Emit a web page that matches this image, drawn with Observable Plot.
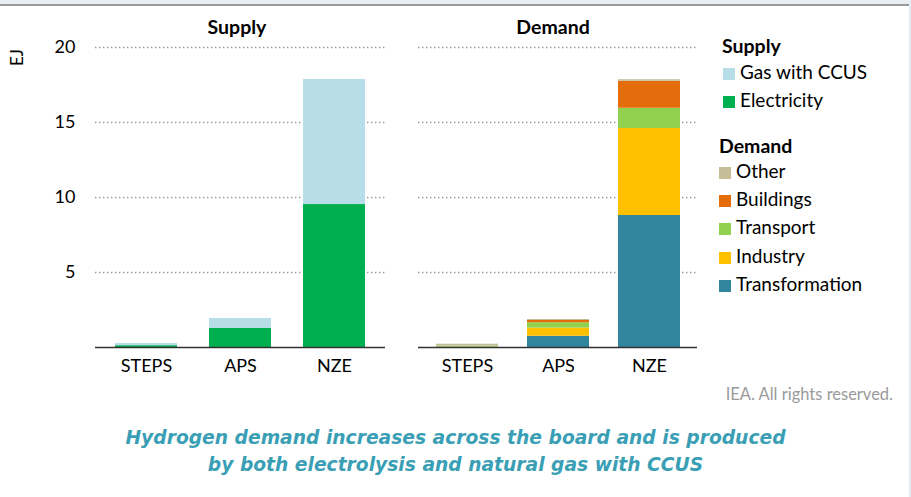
<!DOCTYPE html>
<html><head><meta charset="utf-8">
<script src="https://cdn.jsdelivr.net/npm/d3@7"></script>
<script src="https://cdn.jsdelivr.net/npm/@observablehq/plot@0.6"></script>
<style>
html,body{margin:0;padding:0;background:#fff;}
#wrap{position:relative;width:911px;height:497px;overflow:hidden;font-family:Lato,"Open Sans",sans-serif;}
.abs{position:absolute;white-space:nowrap;}
.ptitle{font-weight:bold;font-size:19.5px;color:#000;transform:translateX(-50%);}
.lg-h{font-weight:bold;font-size:19.5px;color:#000;}
.lg-i{font-size:19px;color:#000;line-height:20px;}
.sw{display:inline-block;width:12px;height:12px;margin-right:5px;vertical-align:-1px;}
</style>
</head><body>
<div id="wrap"></div>
<script>
const scenarios = ["STEPS", "APS", "NZE"];
const supplySeries = ["Electricity", "Gas with CCUS"];
const supplyValues = {
  "Electricity":   [0.12, 1.27, 9.53],
  "Gas with CCUS": [0.15, 0.66, 8.34]
};
const demandSeries = ["Transformation", "Industry", "Transport", "Buildings", "Other"];
const demandValues = {
  "Transformation": [0.02, 0.75, 8.80],
  "Industry":       [0.02, 0.54, 5.80],
  "Transport":      [0.06, 0.36, 1.35],
  "Buildings":      [0.00, 0.15, 1.80],
  "Other":          [0.12, 0.07, 0.10]
};
const yTicks = [5, 10, 15, 20];
const colors = {
  "Gas with CCUS": "#b7dde8",
  "Electricity": "#00b050",
  "Other": "#c4bd97",
  "Buildings": "#e46c0a",
  "Transport": "#92d050",
  "Industry": "#ffc000",
  "Transformation": "#31859c"
};

function rows(series, values) {
  const out = [];
  series.forEach(s => scenarios.forEach((sc, i) => out.push({scenario: sc, series: s, value: values[s][i]})));
  return out;
}

const wrap = document.getElementById("wrap");
const font = "Lato, 'Open Sans', sans-serif";

function panel(data, series, opts) {
  return Plot.plot({
    width: opts.width, height: 390,
    marginLeft: opts.ml, marginRight: opts.mr, marginTop: 47, marginBottom: 43,
    style: {fontFamily: font, fontSize: "18px", color: "#000", background: "transparent", overflow: "visible"},
    x: {domain: scenarios, paddingInner: opts.pi, paddingOuter: opts.po, label: null, tickSize: 0, tickPadding: 12},
    y: {domain: [0, 20], ticks: yTicks, label: null, tickSize: 0, tickPadding: 20, axis: opts.yaxis ? "left" : null},
    color: {domain: Object.keys(colors), range: Object.values(colors)},
    marks: [
      Plot.ruleY(yTicks, {stroke: "#9a9a9a", strokeWidth: 1.4, strokeDasharray: "1.4 2.6"}),
      Plot.barY(data, {x: "scenario", y: "value", fill: "series", order: series}),
      Plot.ruleY([0], {stroke: "#333", strokeWidth: 1.5})
    ]
  });
}

const left = panel(rows(supplySeries, supplyValues), supplySeries, {width: 390, ml: 95, mr: 5, pi: 0.337, po: 0.195, yaxis: true});
left.style.position = "absolute"; left.style.left = "0px"; left.style.top = "0px";
wrap.appendChild(left);

const right = panel(rows(demandSeries, demandValues), demandSeries, {width: 300, ml: 18, mr: 3, pi: 0.322, po: 0.186, yaxis: false});
right.style.position = "absolute"; right.style.left = "400px"; right.style.top = "0px";
wrap.appendChild(right);

function add(html, css, cls) {
  const d = document.createElement("div");
  d.className = "abs " + (cls || "");
  d.innerHTML = html;
  Object.assign(d.style, css);
  wrap.appendChild(d);
  return d;
}
// frame decorations
add("", {left: "0px", top: "0px", width: "911px", height: "4px", background: "#e9eef3"});
add("", {left: "0px", top: "4px", width: "909px", height: "2px", background: "#9a9a9a"});
add("", {left: "909px", top: "0px", width: "2px", height: "497px", background: "#e3ecf3"});

add("Supply", {left: "237px", top: "15px"}, "ptitle");
add("Demand", {left: "553px", top: "15px"}, "ptitle");
add("EJ", {left: "8px", top: "47px", fontSize: "17px", transform: "rotate(-90deg)", transformOrigin: "center"});

// legend
add("Supply", {left: "722px", top: "34px"}, "lg-h");
supplySeries.slice().reverse().forEach((s, i) => {
  add(`<span class="sw" style="background:${colors[s]}"></span>${s}`, {left: "723px", top: (62 + i * 28) + "px"}, "lg-i");
});
add("Demand", {left: "719px", top: "134px"}, "lg-h");
demandSeries.slice().reverse().forEach((s, i) => {
  add(`<span class="sw" style="background:${colors[s]}"></span>${s}`, {left: "719px", top: (161 + i * 28.2) + "px"}, "lg-i");
});

add("IEA. All rights reserved.", {right: "18px", top: "384px", fontSize: "16.5px", color: "#9a9a9a"});
add("Hydrogen demand increases across the board and is produced<br>by both electrolysis and natural gas with CCUS",
  {left: "0px", width: "911px", top: "424px", textAlign: "center", fontSize: "18.7px", lineHeight: "27px",
   fontStyle: "italic", fontWeight: "bold", color: "#3a9fb5", fontFamily: "'DejaVu Sans', sans-serif"});
</script>
</body></html>
